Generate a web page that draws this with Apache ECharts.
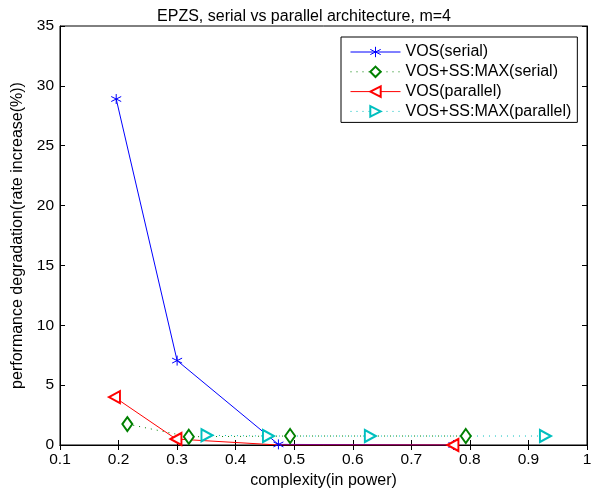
<!DOCTYPE html>
<html><head><meta charset="utf-8">
<script src="https://cdn.jsdelivr.net/npm/echarts@6/dist/echarts.min.js"></script>
<style>html,body{margin:0;padding:0;background:#fff}#c{width:608px;height:495px}</style>
</head><body><div id="c"></div>
<script>
const titleText = 'EPZS, serial vs parallel architecture, m=4';
const xLabel = 'complexity(in power)';
const yLabel = 'performance degradation(rate increase(%))';
const seriesNames = ['VOS(serial)', 'VOS+SS:MAX(serial)', 'VOS(parallel)', 'VOS+SS:MAX(parallel)'];
const vosSerialX = [0.196, 0.300, 0.473, 0.772];
const vosSerialY = [28.9, 7.05, 0.05, 0.0];
const ssSerialX = [0.215, 0.320, 0.493, 0.793];
const ssSerialY = [1.75, 0.69, 0.75, 0.75];
const vosParX = [0.193, 0.298, 0.473, 0.771];
const vosParY = [4.0, 0.5, 0.0, 0.0];
const ssParX = [0.351, 0.456, 0.630, 0.929];
const ssParY = [0.81, 0.75, 0.75, 0.75];
const xTicks = [0.1, 0.2, 0.3, 0.4, 0.5, 0.6, 0.7, 0.8, 0.9, 1];
const yTicks = [0, 5, 10, 15, 20, 25, 30, 35];

const pair = (xs, ys) => xs.map((x, i) => [x, ys[i]]);
const FONT = '"Liberation Sans", Arial, Helvetica, sans-serif';
const star = 'path://M0,-10L0,10M-8.66,-5L8.66,5M-8.66,5L8.66,-5';
const blue = '#0000ff', green = '#008000', red = '#ff0000', cyan = '#00bfbf';

// in the reference the red marker at the third vertex is not visible
const vosParData = pair(vosParX, vosParY).map((p, i) => i === 2 ? {value: p, symbol: 'none'} : p);

const tickCommon = {inside: true, length: 5, lineStyle: {color: '#000'}};
const chart = echarts.init(document.getElementById('c'), null, {renderer: 'canvas'});
chart.setOption({
  animation: false,
  backgroundColor: '#fff',
  title: {text: titleText, left: 'center', top: 4, textStyle: {fontFamily: FONT, fontSize: 16, fontWeight: 'normal', color: '#000'}},
  grid: {left: 60, right: 21, top: 26, bottom: 50, show: true, borderColor: '#000', borderWidth: 1},
  legend: {
    orient: 'vertical', left: 341, top: 37, width: 236, padding: [7, 6, 3, 9],
    backgroundColor: '#fff', borderColor: '#000', borderWidth: 1,
    itemWidth: 50, itemHeight: 13, itemGap: 3.8,
    lineStyle: {width: 1},
    itemStyle: {borderWidth: 1},
    textStyle: {fontFamily: FONT, fontSize: 16, color: '#000'},
    data: seriesNames
  },
  xAxis: [{
    type: 'value', min: 0.1, max: 1, interval: 0.1,
    name: xLabel, nameLocation: 'middle', nameGap: 25,
    nameTextStyle: {fontFamily: FONT, fontSize: 16, color: '#000'},
    axisLine: {lineStyle: {color: '#000'}}, axisTick: tickCommon, splitLine: {show: false},
    axisLabel: {fontFamily: FONT, fontSize: 15.5, color: '#000', margin: 7,
      formatter: v => String(Math.round(v * 10) / 10)}
  }, {
    type: 'value', min: 0.1, max: 1, interval: 0.1, position: 'top',
    axisLine: {lineStyle: {color: '#000'}}, axisTick: tickCommon, splitLine: {show: false},
    axisLabel: {show: false}
  }],
  yAxis: [{
    type: 'value', min: 0, max: 35, interval: 5,
    name: yLabel, nameLocation: 'middle', nameGap: 29,
    nameTextStyle: {fontFamily: FONT, fontSize: 16, color: '#000'},
    axisLine: {show: true, lineStyle: {color: '#000'}}, axisTick: tickCommon, splitLine: {show: false},
    axisLabel: {fontFamily: FONT, fontSize: 15.5, color: '#000', margin: 6}
  }, {
    type: 'value', min: 0, max: 35, interval: 5, position: 'right',
    axisLine: {show: true, lineStyle: {color: '#000'}}, axisTick: tickCommon, splitLine: {show: false},
    axisLabel: {show: false}
  }],
  series: [
    {name: seriesNames[0], type: 'line', data: pair(vosSerialX, vosSerialY),
     symbol: star, symbolSize: 10, showAllSymbol: true, z: 3,
     lineStyle: {color: blue, width: 1, type: 'solid'},
     itemStyle: {color: 'none', borderColor: blue, borderWidth: 1}},
    {name: seriesNames[1], type: 'line', data: pair(ssSerialX, ssSerialY),
     symbol: 'emptyDiamond', symbolSize: [10, 14],
     lineStyle: {color: green, width: 1, type: [1, 5]},
     itemStyle: {color: green, borderColor: green, borderWidth: 1}},
    {name: seriesNames[2], type: 'line', data: vosParData,
     symbol: 'emptyTriangle', symbolRotate: 90, symbolSize: [12, 11], showAllSymbol: true,
     lineStyle: {color: red, width: 1, type: 'solid'},
     itemStyle: {color: red, borderColor: red, borderWidth: 1}},
    {name: seriesNames[3], type: 'line', data: pair(ssParX, ssParY),
     symbol: 'emptyTriangle', symbolRotate: -90, symbolSize: [12, 11],
     lineStyle: {color: cyan, width: 1, type: [1, 5]},
     itemStyle: {color: cyan, borderColor: cyan, borderWidth: 1}}
  ]
});
</script></body></html>
